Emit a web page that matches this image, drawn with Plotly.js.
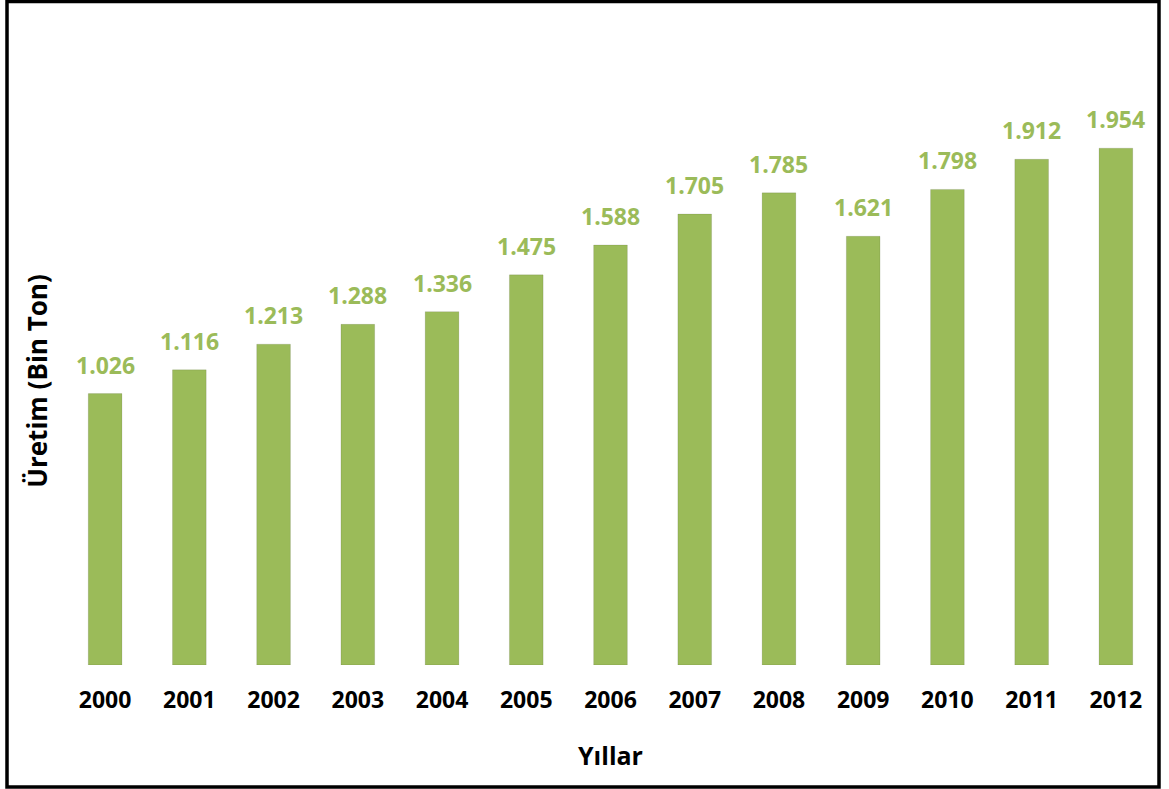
<!DOCTYPE html>
<html>
<head>
<meta charset="utf-8">
<script src="https://cdn.plot.ly/plotly-3.0.1.min.js"></script>
<style>
  html, body { margin: 0; padding: 0; background: #ffffff; }
  #chart { width: 1169px; height: 789px; }
</style>
</head>
<body>
<div id="chart"></div>
<script>
// ---- data ----
const years = ['2000', '2001', '2002', '2003', '2004', '2005', '2006', '2007', '2008', '2009', '2010', '2011', '2012'];
const production = [1026, 1116, 1213, 1288, 1336, 1475, 1588, 1705, 1785, 1621, 1798, 1912, 1954];
const yTitle = 'Üretim (Bin Ton)';
const xTitle = 'Yıllar';

// ---- layout constants ----
const W = 1169, H = 789;
const M = { l: 63, r: 11, t: 97, b: 124 };
const plotW = W - M.l - M.r, plotH = H - M.t - M.b;
const green = '#9BBB59';
const fontFam = '"Open Sans", "Noto Sans", sans-serif';

function fmt(v) {
  const s = Math.round(v).toString();
  return s.replace(/\B(?=(\d{3})+(?!\d))/g, '.');
}

const labels = years.map((y, i) => ({
  x: i, y: production[i], xref: 'x', yref: 'y',
  text: '<b>' + fmt(production[i]) + '</b>',
  showarrow: false, yanchor: 'bottom', xanchor: 'center', yshift: 11,
  font: { family: fontFam, size: 23, color: green }
}));

// outer border (pixel -> paper coordinates)
const px = p => (p - M.l) / plotW;
const py = p => (H - M.b - p) / plotH;

const trace = {
  type: 'bar',
  x: years,
  y: production,
  marker: { color: green, line: { color: 'rgba(0,0,0,0.10)', width: 1 } },
  hoverinfo: 'x+y'
};

const layout = {
  width: W, height: H,
  margin: M,
  paper_bgcolor: '#ffffff', plot_bgcolor: '#ffffff',
  showlegend: false,
  bargap: 0.6,
  xaxis: {
    type: 'category',
    range: [-0.5, years.length - 0.5], autorange: false,
    showgrid: false, zeroline: false, showline: false, ticks: '',
    ticklabelstandoff: 19,
    tickfont: { family: fontFam, size: 23, color: '#000000', weight: 'bold' },
    title: { text: '<b>' + xTitle + '</b>', standoff: 33, font: { family: fontFam, size: 25, color: '#000000' } }
  },
  yaxis: {
    range: [0, plotH / 0.2645], autorange: false,
    showgrid: false, zeroline: false, showline: false, ticks: '', showticklabels: false,
    title: { text: '<b>' + yTitle + '</b>', standoff: 6, font: { family: fontFam, size: 26, color: '#000000' } }
  },
  annotations: labels,
  shapes: [{
    type: 'rect', xref: 'paper', yref: 'paper',
    x0: px(7), x1: px(1159), y0: py(787), y1: py(1.5),
    line: { color: '#000000', width: 3.5 }, fillcolor: 'rgba(0,0,0,0)'
  }]
};

Plotly.newPlot('chart', [trace], layout, { displayModeBar: false, staticPlot: true });
</script>
</body>
</html>
